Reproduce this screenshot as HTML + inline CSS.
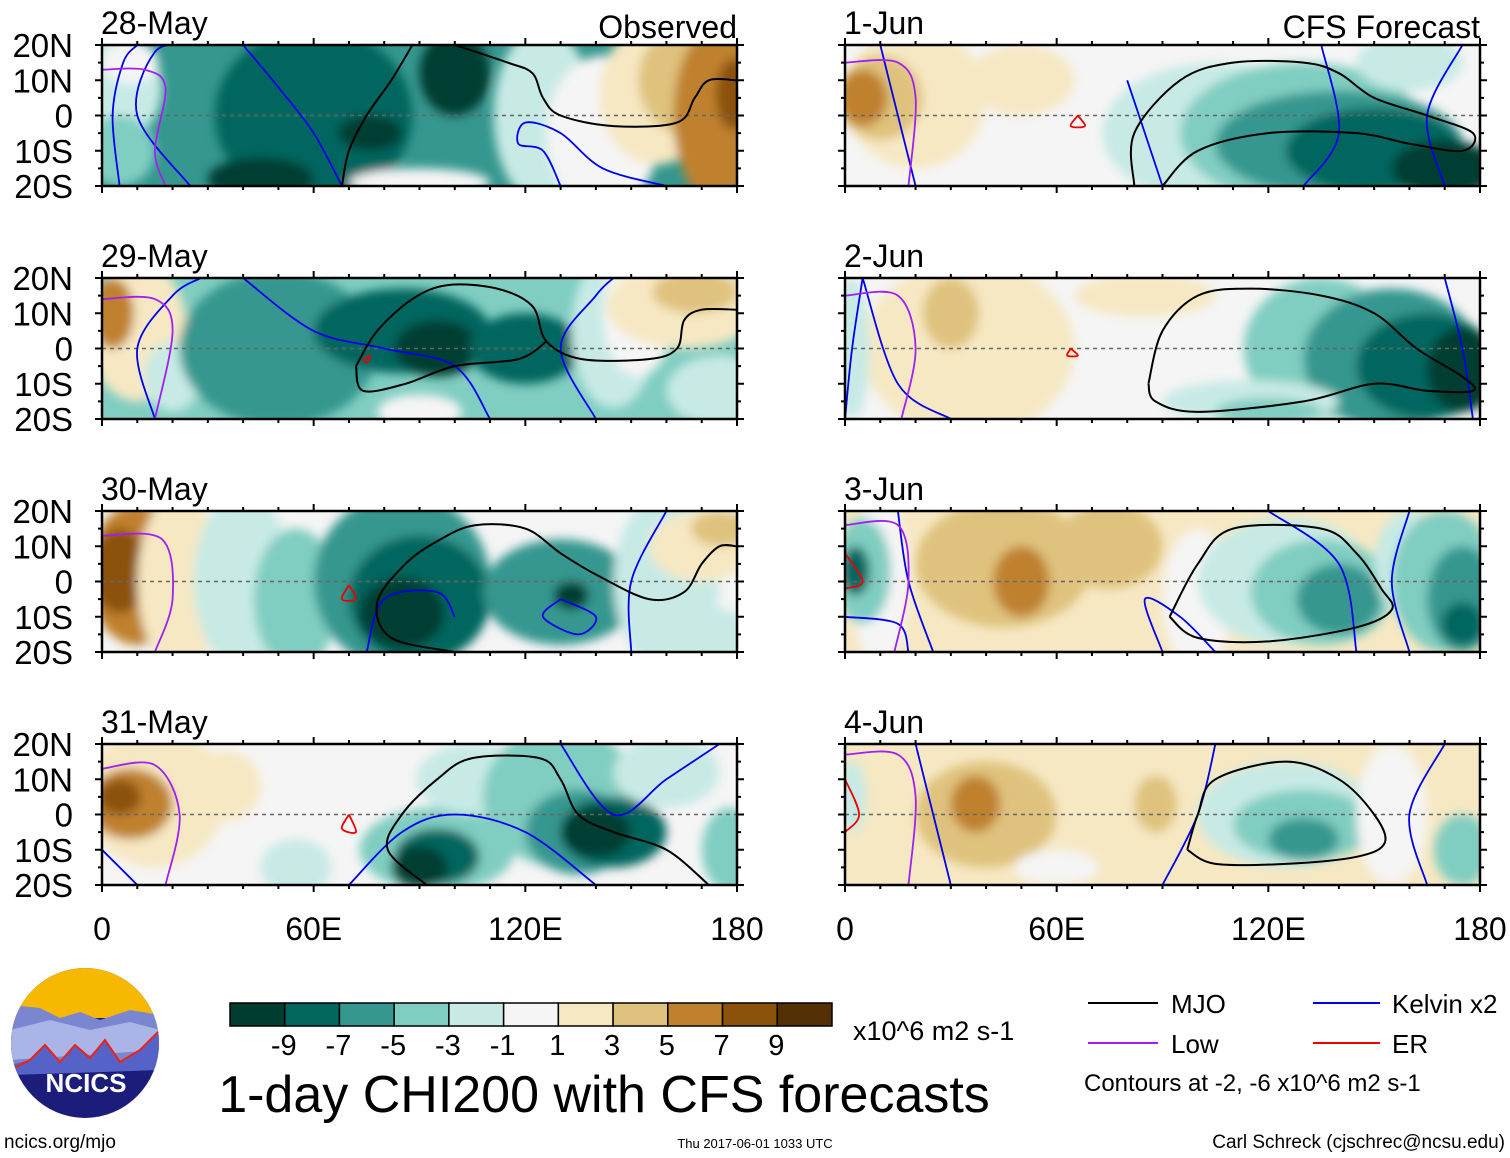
<!DOCTYPE html>
<html><head><meta charset="utf-8">
<style>
html,body{margin:0;padding:0;background:#fff;}
svg{display:block;font-family:"Liberation Sans",Arial,sans-serif;}
</style></head>
<body>
<svg id="fig" width="1510" height="1158" viewBox="0 0 1510 1158" xmlns="http://www.w3.org/2000/svg">
<defs>
<filter id="soft" x="-10%" y="-10%" width="120%" height="120%"><feGaussianBlur stdDeviation="5"/></filter>
</defs>
<g id="panels"></g>

<g>
  <clipPath id="logoclip"><ellipse cx="85" cy="1043" rx="74" ry="75"/></clipPath>
  <g clip-path="url(#logoclip)">
    <rect x="10" y="968" width="150" height="150" fill="#1c1d7a"/>
    <rect x="10" y="968" width="150" height="50" fill="#f6b800"/>
    <path d="M10 1005 L40 1008 L60 1018 L80 1012 L100 1020 L130 1010 L160 1015 L160 1060 L10 1070Z" fill="#7a86d0"/>
    <path d="M10 1030 L50 1020 L90 1030 L130 1022 L160 1030 L160 1050 L10 1060Z" fill="#aab4e6"/>
    <path d="M10 1065 L30 1060 L45 1045 L60 1062 L75 1045 L90 1058 L105 1040 L120 1062 L140 1050 L160 1030 L160 1070 L10 1075Z" fill="#5563c8"/>
    <path d="M10 1070 L30 1060 L45 1045 L60 1062 L75 1045 L90 1058 L105 1040 L120 1062 L140 1050 L160 1030" fill="none" stroke="#e21" stroke-width="2"/>
  </g>
  <text x="86" y="1092" text-anchor="middle" font-size="26" font-weight="bold" fill="#fff">NCICS</text>
</g>
<text x="4" y="1148" font-size="19">ncics.org/mjo</text>
<text x="755" y="1148" font-size="13" text-anchor="middle">Thu 2017-06-01 1033 UTC</text>
<text x="1505" y="1148" font-size="19" text-anchor="end">Carl Schreck (cjschrec@ncsu.edu)</text>
<g id="colorbar"></g>
<text x="853" y="1040" font-size="27">x10^6 m2 s-1</text>
<text x="604" y="1112" font-size="52" text-anchor="middle">1-day CHI200 with CFS forecasts</text>

<g>
  <line x1="1088" y1="1003" x2="1158" y2="1003" stroke="#000" stroke-width="2"/>
  <text x="1171" y="1013" font-size="26">MJO</text>
  <line x1="1313" y1="1003" x2="1380" y2="1003" stroke="#0000ee" stroke-width="2"/>
  <text x="1392" y="1013" font-size="26">Kelvin x2</text>
  <line x1="1088" y1="1043" x2="1158" y2="1043" stroke="#a020f0" stroke-width="2"/>
  <text x="1171" y="1053" font-size="26">Low</text>
  <line x1="1313" y1="1043" x2="1380" y2="1043" stroke="#ee0000" stroke-width="2"/>
  <text x="1392" y="1053" font-size="26">ER</text>
  <text x="1084" y="1091" font-size="24">Contours at -2, -6 x10^6 m2 s-1</text>
</g>
</svg>
<script>
const levelColors = ["#003c30","#01665e","#35978f","#80cdc1","#c7eae5","#f5f5f5","#f6e8c3","#dfc27d","#bf812d","#8c510a","#543005"];
const cbarLabels = ["-9","-7","-5","-3","-1","1","3","5","7","9"];
const lonTicks = [0,60,120,180];
const lonTickLabels = ["0","60E","120E","180"];
const latTicks = [20,10,0,-10,-20];
const latTickLabels = ["20N","10N","0","10S","20S"];
const panelDates = ["28-May","29-May","30-May","31-May","1-Jun","2-Jun","3-Jun","4-Jun"];
// anomaly blobs: [lon, lat, rxDeg, ryDeg, level]
const base = [2,3,5,5,5,5,6,6];
const blobs0 = [[5,8,12,15,4],[8,15,8,6,5],[5,-10,10,10,3],[60,0,28,25,1],[100,12,10,12,0],[76,-5,9,5,0],[45,-18,15,6,0],[90,-19,20,4,5],[125,0,14,25,4],[142,-5,16,22,5],[157,6,16,20,6],[167,10,15,16,7],[174,0,12,25,8],[179,6,5,10,9]];
const blobs1 = [[10,5,14,20,6],[3,10,6,10,8],[20,-8,8,10,4],[50,0,28,22,2],[85,5,25,12,1],[95,0,12,8,0],[120,0,16,10,1],[145,5,12,22,4],[152,10,10,18,5],[165,12,22,12,6],[168,16,12,6,7],[90,-18,12,5,5],[175,-12,15,10,4]];
const blobs2 = [[10,2,14,20,8],[5,3,8,12,9],[22,0,12,25,6],[40,0,14,25,4],[55,-5,12,20,3],[85,0,25,25,2],[90,-5,20,18,1],[85,-9,12,10,0],[130,-3,22,15,2],[133,-4,5,4,0],[160,0,15,25,4],[170,10,15,10,6],[175,15,8,5,7],[170,-15,14,8,4]];
const blobs3 = [[15,5,20,20,6],[8,3,12,10,8],[5,5,6,5,9],[35,8,10,10,6],[55,-15,10,8,4],[95,-10,22,12,3],[95,-12,12,8,1],[90,-15,8,6,0],[105,10,16,10,4],[130,5,22,20,3],[135,-5,15,12,2],[145,-5,15,10,1],[140,-5,10,7,0],[160,12,15,10,4],[178,-10,8,12,3]];
const blobs4 = [[20,5,20,20,6],[10,5,12,12,7],[5,5,7,8,8],[50,10,15,10,6],[105,-5,32,20,4],[130,-5,35,20,3],[140,-8,35,15,2],[150,-10,25,12,1],[170,-15,15,8,0],[160,15,15,8,4]];
const blobs5 = [[35,0,30,25,6],[30,10,8,10,7],[85,15,20,6,6],[2,0,5,20,4],[135,0,22,20,3],[155,-3,25,20,2],[165,-5,20,15,1],[175,-6,10,12,0],[115,-15,25,6,4],[120,-18,15,4,3]];
const blobs6 = [[45,5,25,18,7],[50,0,8,10,8],[75,10,15,12,7],[10,0,8,25,5],[5,3,8,15,3],[3,3,4,7,1],[100,-5,10,20,5],[125,0,25,18,4],[135,-3,20,15,3],[140,-5,12,10,2],[160,5,10,15,4],[170,0,15,20,3],[175,-5,10,15,2],[175,-12,6,6,1]];
const blobs7 = [[40,0,20,15,7],[37,3,7,8,8],[75,5,15,15,6],[88,3,6,8,7],[60,-15,12,5,5],[125,0,25,15,4],[130,-3,20,10,3],[130,-7,10,6,2],[155,0,10,20,5],[175,-10,8,10,3],[2,5,4,10,4]];
const panelBlobs = [blobs0,blobs1,blobs2,blobs3,blobs4,blobs5,blobs6,blobs7];
// MJO contours (lon, lat)
const mjo0 = [[[68,-20],[70,-10],[75,0],[82,10],[88,20]],[[100,20],[115,15],[122,12],[125,5],[130,0],[145,-3],[163,-2],[168,5],[172,10],[180,10]]];
const mjo1 = [[[72,-5],[78,5],[88,14],[98,18],[112,17],[122,12],[126,2],[136,-3],[155,-3],[163,0],[165,8],[170,11],[180,11]],[[72,-5],[74,-12],[86,-10],[100,-5],[118,-3],[126,2]]];
const mjo2 = [[[100,-20],[82,-16],[78,-6],[86,5],[96,12],[106,16],[120,15],[130,8],[140,2],[155,-5],[165,-3],[170,5],[175,10],[180,10]]];
const mjo3 = [[[92,-20],[81,-10],[85,0],[95,10],[105,16],[124,16],[130,10],[135,0],[145,-5],[160,-10],[172,-20]]];
const mjo4 = [[[82,-20],[82,-5],[95,10],[110,15],[130,15],[140,12],[150,5],[165,0],[178,-5],[175,-10],[160,-8],[145,-5],[120,-5],[100,-10],[90,-20]]];
const mjo5 = [[[86,-10],[90,5],[100,15],[115,17],[135,15],[150,10],[162,0],[175,-8],[178,-12],[165,-12],[150,-10],[130,-15],[100,-18],[88,-15],[86,-10]]];
const mjo6 = [[[92,-10],[100,5],[110,15],[135,15],[145,8],[152,-2],[155,-8],[145,-13],[120,-17],[100,-16],[92,-10]]];
const mjo7 = [[[97,-10],[100,0],[105,10],[125,15],[140,10],[150,0],[153,-8],[145,-12],[125,-14],[105,-14],[97,-10]]];
const panelMjo = [mjo0,mjo1,mjo2,mjo3,mjo4,mjo5,mjo6,mjo7];
const kelvin0 = [[[5,-20],[3,0],[6,15],[10,20]],[[25,-20],[10,0],[15,18],[25,20]],[[68,-20],[60,-5],[50,8],[40,20]],[[130,-20],[125,-10],[118,-8],[120,-2],[130,-5],[142,-15],[160,-20]]];
const kelvin1 = [[[15,-20],[10,0],[20,15],[28,20]],[[110,-20],[100,-5],[80,0],[60,5],[40,20]],[[140,-20],[130,0],[140,15],[145,20]]];
const kelvin2 = [[[100,-10],[95,-3],[80,-5],[75,-20]],[[130,-5],[140,-10],[135,-15],[125,-10],[130,-5]],[[150,-20],[150,0],[160,20]]];
const kelvin3 = [[[0,-10],[10,-20]],[[70,-20],[85,-5],[100,0],[120,-5],[140,-20]],[[130,20],[145,0],[160,10],[175,20]]];
const kelvin4 = [[[10,20],[15,0],[20,-20]],[[90,-20],[85,-5],[80,10]],[[130,-20],[140,-5],[135,20]],[[170,-20],[165,0],[175,20]]];
const kelvin5 = [[[0,-20],[2,0],[5,20]],[[30,-20],[15,-10],[5,20]],[[170,20],[175,0],[178,-20]]];
const kelvin6 = [[[0,-10],[15,-12],[18,-20]],[[15,20],[18,0],[25,-20]],[[90,-20],[85,-5],[95,-10],[105,-20]],[[120,20],[140,5],[145,-20]],[[160,20],[155,0],[160,-20]]];
const kelvin7 = [[[20,20],[25,0],[30,-20]],[[90,-20],[100,0],[105,20]],[[165,-20],[160,0],[170,20]]];
const panelKelvin = [kelvin0,kelvin1,kelvin2,kelvin3,kelvin4,kelvin5,kelvin6,kelvin7];
const lowLines = [[[0,13],[12,13],[18,8],[15,-10],[18,-20]],[[0,14],[15,14],[20,5],[15,-20]],[[0,13],[17,12],[20,-5],[15,-20]],[[0,13],[15,14],[22,0],[18,-20]],[[0,15],[15,15],[20,5],[18,-20]],[[0,15],[15,15],[20,0],[16,-20]],[[0,16],[15,16],[18,0],[14,-20]],[[0,17],[15,17],[20,5],[18,-20]]];
const erLines = [[],[[74,-3],[76,-2],[75,-4],[74,-3]],[[70,-1],[72,-5],[68,-5],[70,-1]],[[70,0],[72,-5],[68,-4],[70,0]],[[66,0],[68,-3],[64,-3],[66,0]],[[64,0],[66,-2],[63,-2],[64,0]],[[0,8],[5,0],[0,-2]],[[0,10],[4,0],[0,-5]]];

const NS="http://www.w3.org/2000/svg";
const panelsG=document.getElementById('panels');
const PW=635, PH=141;
const lefts=[102,845], tops=[45,278,511,744];
function mk(tag,attrs,parent){const e=document.createElementNS(NS,tag);for(const k in attrs)e.setAttribute(k,attrs[k]);if(parent)parent.appendChild(e);return e;}
function xScale(x0,lon){return x0+lon/180*PW;}
function yScale(y0,lat){return y0+(20-lat)/40*PH;}
function smoothPath(pts){
  if(pts.length<2)return "";
  let d="M"+pts[0][0].toFixed(1)+" "+pts[0][1].toFixed(1);
  for(let i=0;i<pts.length-1;i++){
    const p0=pts[i-1]||pts[i],p1=pts[i],p2=pts[i+1],p3=pts[i+2]||p2;
    const c1=[p1[0]+(p2[0]-p0[0])/6,p1[1]+(p2[1]-p0[1])/6];
    const c2=[p2[0]-(p3[0]-p1[0])/6,p2[1]-(p3[1]-p1[1])/6];
    d+=" C"+c1[0].toFixed(1)+" "+c1[1].toFixed(1)+" "+c2[0].toFixed(1)+" "+c2[1].toFixed(1)+" "+p2[0].toFixed(1)+" "+p2[1].toFixed(1);
  }
  return d;
}
for(let p=0;p<8;p++){
  const col=p<4?0:1,row=p%4;
  const x0=lefts[col],y0=tops[row];
  const g=mk('g',{},panelsG);
  
  
  const cp=mk('clipPath',{id:'clip'+p},g);
  mk('rect',{x:x0,y:y0,width:PW,height:PH},cp);
  const field=mk('g',{'clip-path':'url(#clip'+p+')'},g);
  const bg=mk('rect',{x:x0-20,y:y0-20,width:PW+40,height:PH+40,fill:levelColors[base[p]]},field);
  
  
  const blur=mk('g',{filter:'url(#soft)'},field);
  panelBlobs[p].forEach(b=>{
    const e=mk('ellipse',{cx:xScale(x0,b[0]),cy:yScale(y0,b[1]),rx:b[2]/180*PW,ry:b[3]/40*PH,fill:levelColors[b[4]]},blur);
    
    
  });
  const eq=mk('line',{x1:x0,x2:x0+PW,y1:yScale(y0,0),y2:yScale(y0,0),stroke:'#666','stroke-width':1.5,'stroke-dasharray':'4 4'},field);
  
  
  const drawLines=(sets,color,name,w)=>{sets.forEach(s=>{if(!s.length)return;
    const pts=s.map(q=>[xScale(x0,q[0]),yScale(y0,q[1])]);
    const pa=mk('path',{d:smoothPath(pts),fill:'none',stroke:color,'stroke-width':w},field);
    
    
  });};
  drawLines(panelKelvin[p],'#0000ee','kelvin-contour',1.8);
  drawLines([lowLines[p]],'#a020f0','low-contour',1.8);
  drawLines([erLines[p]],'#ee0000','er-contour',1.8);
  drawLines(panelMjo[p],'#000','mjo-contour',2);
  const fr=mk('rect',{x:x0,y:y0,width:PW,height:PH,fill:'none',stroke:'#000','stroke-width':2.5},g);
  
  
  for(let lon=0;lon<=180;lon+=10){
    const major=lonTicks.includes(lon),len=major?7:4,x=xScale(x0,lon);
    mk('line',{x1:x,x2:x,y1:y0,y2:y0-len,stroke:'#000','stroke-width':2},g);
    mk('line',{x1:x,x2:x,y1:y0+PH,y2:y0+PH+len,stroke:'#000','stroke-width':2},g);
  }
  for(let lat=-20;lat<=20;lat+=5){
    const major=latTicks.includes(lat),len=major?7:4,y=yScale(y0,lat);
    mk('line',{x1:x0,x2:x0-len,y1:y,y2:y,stroke:'#000','stroke-width':2},g);
    mk('line',{x1:x0+PW,x2:x0+PW+len,y1:y,y2:y,stroke:'#000','stroke-width':2},g);
  }
  const dt=mk('text',{x:x0-1,y:y0-11,'font-size':32},g);dt.textContent=panelDates[p];
  
  
  if(col===0){latTicks.forEach((lat,i)=>{
    const t=mk('text',{x:73,y:yScale(y0,lat)+12,'font-size':33,'text-anchor':'end'},g);t.textContent=latTickLabels[i];
    
    
  });}
  if(row===0){const t=mk('text',{x:x0+PW,y:y0-7,'font-size':32,'text-anchor':'end'},g);t.textContent=col===0?'Observed':'CFS Forecast';
    
    }
  if(row===3){lonTicks.forEach((lon,i)=>{
    const t=mk('text',{x:xScale(x0,lon),y:940,'font-size':32,'text-anchor':'middle'},g);t.textContent=lonTickLabels[i];
    
    
  });}
}
const cb=document.getElementById('colorbar');
const cbx=230,cbw=602,cby=1003,cbh=23,bw=cbw/levelColors.length;
levelColors.forEach((c,i)=>{
  const r=mk('rect',{x:cbx+i*bw,y:cby,width:bw,height:cbh,fill:c,stroke:'#000','stroke-width':1.5},cb);
  
  
});
cbarLabels.forEach((l,i)=>{
  const t=mk('text',{x:cbx+(i+1)*bw-1,y:1055,'font-size':29,'text-anchor':'middle'},cb);t.textContent=l;
  
  
});
</script>
</body></html>
